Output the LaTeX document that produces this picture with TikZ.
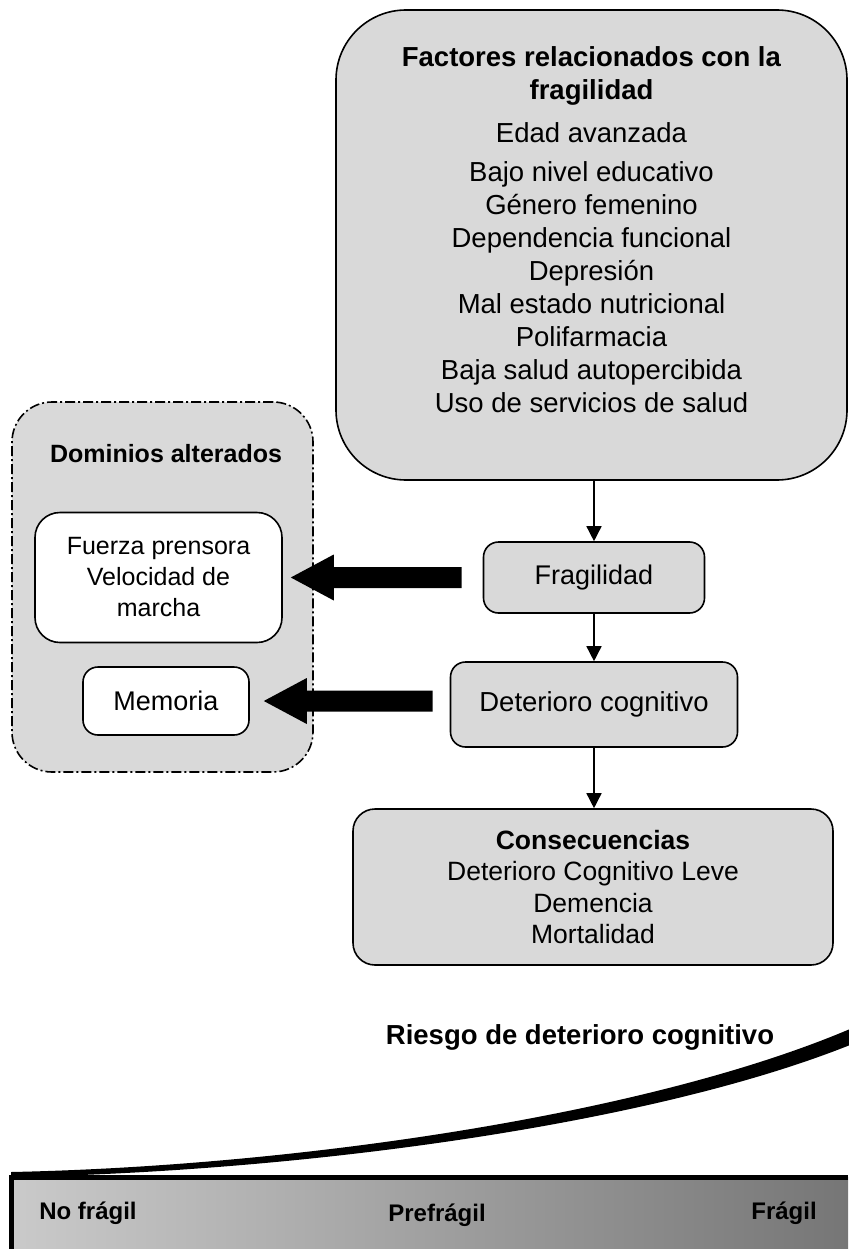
\documentclass[tikz,border=0pt]{standalone}
\usepackage{fontspec}
\setmainfont{Liberation Sans}
\usepackage{amsmath}
\usepackage{pgfplots}
\pgfplotsset{compat=1.18}
\usetikzlibrary{arrows.meta,calc}
\definecolor{boxgray}{RGB}{217,217,217}
\definecolor{barlight}{RGB}{202,202,202}
\definecolor{bardark}{RGB}{118,118,118}

\begin{document}
\begin{tikzpicture}[x=1pt, y=-1pt,
    box/.style={draw, line width=1.6pt, fill=boxgray, rounded corners=15pt, align=center, inner sep=0pt},
    wbox/.style={box, fill=white},
    txt/.style={align=center, inner sep=0pt, font=\fontsize{27.5}{33}\selectfont},
    link/.style={line width=1.5pt, -{Triangle[length=15pt,width=15pt]}},
    tag/.style={inner sep=0pt, font=\bfseries\fontsize{24}{28}\selectfont}]
    \useasboundingbox (0,0) rectangle (848,1249);

    \node[box, rounded corners=70pt, minimum width=511pt, minimum height=470pt] (FR) at (591.5,245) {};
    \node[txt] (FRt) at (591.5,230)
        {\textbf{Factores relacionados con la}\\
         \textbf{fragilidad}\\[10pt]
         Edad avanzada\\[6pt]
         Bajo nivel educativo\\
         Género femenino\\
         Dependencia funcional\\
         Depresión\\
         Mal estado nutricional\\
         Polifarmacia\\
         Baja salud autopercibida\\
         Uso de servicios de salud};

    \node[box, rounded corners=40pt, dash pattern=on 10pt off 3pt on 2pt off 3pt,
        minimum width=301pt, minimum height=370pt] (DA) at (162.5,587) {};
    \node[txt, font=\bfseries\fontsize{25}{30}\selectfont] (DAt) at (166,454) {Dominios alterados};
    \node[wbox, rounded corners=25pt, minimum width=247pt, minimum height=130pt,
        font=\fontsize{25}{31}\selectfont] (FP) at (158.5,577.5)
        {Fuerza prensora\\Velocidad de\\marcha};
    \node[wbox, minimum width=166pt, minimum height=68pt,
        font=\fontsize{27}{33}\selectfont] (ME) at (166,701) {Memoria};

    \node[box, minimum width=221pt, minimum height=71pt,
        font=\fontsize{27}{33}\selectfont] (FG) at (594,577.5) {Fragilidad};
    \node[box, minimum width=287pt, minimum height=85pt,
        font=\fontsize{27.5}{33}\selectfont] (DC) at (594,704.5) {Deterioro cognitivo};
    \node[box, rounded corners=22pt, minimum width=480pt, minimum height=156pt,
        font=\fontsize{26.5}{31.5}\selectfont] (CO) at (593,887)
        {\textbf{Consecuencias}\\Deterioro Cognitivo Leve\\Demencia\\Mortalidad};

    \draw[link] (FG.north |- FR.south) -- (FG.north);
    \draw[link] (FG.south) -- (DC.north);
    \draw[link] (DC.south) -- (DC.south |- CO.north);

    \coordinate (A1) at ([xshift=-21pt]FG.west);
    \coordinate (B1) at ([xshift=8pt]FP.east);
    \coordinate (A2) at ([xshift=-17pt]DC.west |- ME.east);
    \coordinate (B2) at ([xshift=14pt]ME.east);
    \foreach \a/\b in {A1/B1, A2/B2}
        \fill ($(\a)+(0,-10.5)$) -- ($(\b)+(43,-10.5)$) -- ($(\b)+(43,-23)$) -- (\b)
            -- ($(\b)+(43,23)$) -- ($(\b)+(43,10.5)$) -- ($(\a)+(0,10.5)$) -- cycle;

    \node[txt, font=\bfseries\fontsize{27.5}{33}\selectfont] (RI) at (580,1037) {Riesgo de deterioro cognitivo};
    \fill (11,1172) .. controls (300,1166) and (650,1114) .. (850,1029)
        -- (850,1045) .. controls (650,1125) and (300,1172) .. (11,1177) -- cycle;
    \shade[left color=barlight, right color=bardark] (11,1177) rectangle (848,1249);
    \draw[line width=5pt] (11,1249) -- (11,1177) -- (848,1177);
    \node[tag] (N1) at (88,1213) {No frágil};
    \node[tag] (N2) at (437,1215) {Prefrágil};
    \node[tag] (N3) at (784,1213) {Frágil};
\end{tikzpicture}
\end{document}
